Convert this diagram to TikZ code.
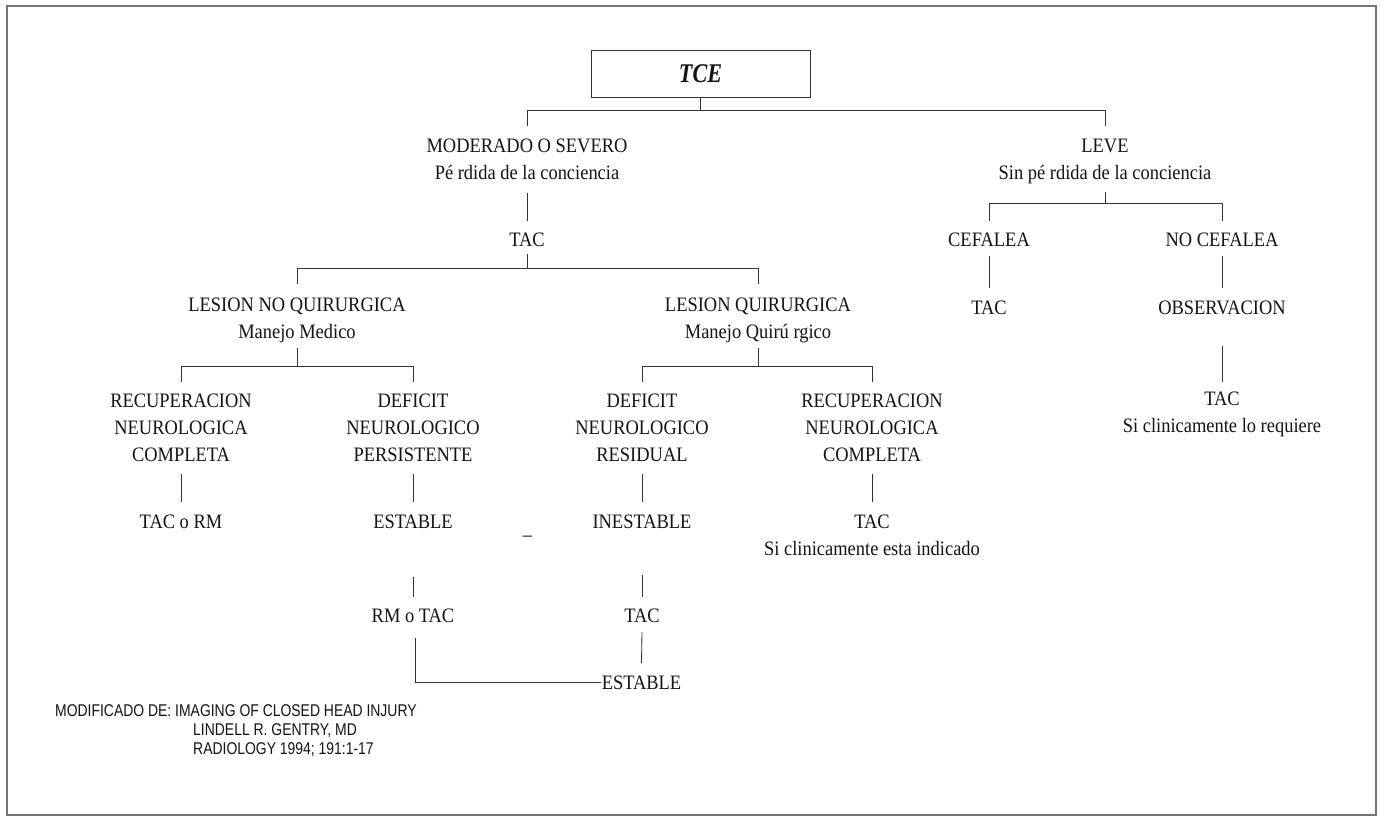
\documentclass[tikz,border=0pt]{standalone}
\usepackage{fontspec}
\setmainfont{Liberation Serif}[FakeStretch=0.9]
\newfontfamily\tcefont{Liberation Serif}[FakeStretch=0.82]
\newfontfamily\credfont{Liberation Sans}[FakeStretch=0.82]
\definecolor{txt}{HTML}{141414}
\definecolor{ln}{HTML}{333333}
\definecolor{framec}{HTML}{757575}
\newcommand\st{\rule[-6.7pt]{0pt}{27pt}}
\begin{document}
\begin{tikzpicture}[x=1pt,y=1pt,
  lbl/.style={inner sep=0pt, align=center, font=\fontsize{20.5}{27}\selectfont, text=txt},
  conn/.style={draw=ln, line width=0.85pt},
  cred/.style={inner sep=0pt, anchor=base west, font=\credfont\fontsize{17}{19}\selectfont, text=txt},
  tcebox/.style={draw=ln, line width=0.85pt, minimum width=219pt, minimum height=47pt, inner sep=0pt,
    font=\tcefont\bfseries\itshape\fontsize{27}{30}\selectfont, text=txt}]
\useasboundingbox (0,0) rectangle (1384,-817);
\fill[white] (0,0) rectangle (1384,-817);
\draw[framec, line width=1.8pt] (7,-6) rectangle (1376,-815);

% nodes
\node[tcebox] (tce) at (700.5,-73.5) {TCE};
\node[lbl] (mod) at (527,-159) {\st MODERADO O SEVERO\\\st Pé rdida de la conciencia};
\node[lbl] (lev) at (1105,-159) {\st LEVE\\\st Sin pé rdida de la conciencia};
\node[lbl] (tacL) at (527,-240) {\st TAC};
\node[lbl] (lnq) at (297,-318.5) {\st LESION NO QUIRURGICA\\\st Manejo Medico};
\node[lbl] (lq) at (758,-318.5) {\st LESION QUIRURGICA\\\st Manejo Quirú rgico};
\node[lbl] (rec1) at (181,-427.5) {\st RECUPERACION\\\st NEUROLOGICA\\\st COMPLETA};
\node[lbl] (dp) at (413,-427.5) {\st DEFICIT\\\st NEUROLOGICO\\\st PERSISTENTE};
\node[lbl] (dr) at (642,-427.5) {\st DEFICIT\\\st NEUROLOGICO\\\st RESIDUAL};
\node[lbl] (rec2) at (872,-427.5) {\st RECUPERACION\\\st NEUROLOGICA\\\st COMPLETA};
\node[lbl] (tacrm) at (181,-522) {\st TAC o RM};
\node[lbl] (est1) at (413,-522) {\st ESTABLE};
\node[lbl] (inest) at (642,-522) {\st INESTABLE};
\node[lbl] (tacsi) at (872,-535.5) {\st TAC\\\st Si clinicamente esta indicado};
\node[lbl, anchor=base] (dash) at (527.5,-534) {\_};
\node[lbl] (rmtac) at (413,-615.5) {\st RM o TAC};
\node[lbl] (tac2) at (642,-615.5) {\st TAC};
\node[lbl] (est2) at (641.5,-682.5) {\st ESTABLE};
\node[lbl] (cef) at (989,-240) {\st CEFALEA};
\node[lbl] (ncef) at (1222,-240) {\st NO CEFALEA};
\node[lbl] (tacR) at (989,-308) {\st TAC};
\node[lbl] (obs) at (1222,-308) {\st OBSERVACION};
\node[lbl] (tacreq) at (1222,-412) {\st TAC\\\st Si clinicamente lo requiere};

\node[cred] (cred1) at (55,-716) {MODIFICADO DE: IMAGING OF CLOSED HEAD INJURY};
\node[cred] (cred2) at (193,-735.5) {LINDELL R. GENTRY, MD};
\node[cred] (cred3) at (193,-754.5) {RADIOLOGY 1994; 191:1-17};

% connectors
\draw[conn] (tce.south) -- ++(0,-13.5);
\draw[conn] ([yshift=6pt]mod.north) -- ++(0,15.5) -| ([yshift=6pt]lev.north);
\draw[conn] ([yshift=-7pt]mod.south) -- ([yshift=5.5pt]tacL.north);
\draw[conn] (tacL.south) -- ++(0,-15);
\draw[conn] ([yshift=7.5pt]lnq.north) -- ++(0,15.5) -| ([yshift=7.5pt]lq.north);
\draw[conn] ([yshift=-2.5pt]lnq.south) -- ++(0,-19);
\draw[conn] ([yshift=5pt]rec1.north) -- ++(0,15) -| ([yshift=5pt]dp.north);
\draw[conn] ([yshift=-2.5pt]lq.south) -- ++(0,-19);
\draw[conn] ([yshift=5pt]dr.north) -- ++(0,15) -| ([yshift=5pt]rec2.north);
\draw[conn] ([yshift=-6pt]rec1.south) -- ([yshift=6.5pt]tacrm.north);
\draw[conn] ([yshift=-6pt]dp.south) -- ([yshift=6.5pt]est1.north);
\draw[conn] ([yshift=-6pt]dr.south) -- ([yshift=6.5pt]inest.north);
\draw[conn] ([yshift=-6pt]rec2.south) -- ([yshift=6.5pt]tacsi.north);
\draw[conn] ([yshift=-41.5pt]est1.south) -- ([yshift=4.5pt]rmtac.north);
\draw[conn] ([yshift=-39.5pt]inest.south) -- ([yshift=5pt]tac2.north);
\draw[conn] ([yshift=-3pt]tac2.south) -- ([yshift=6pt]est2.north);
\draw[conn] ([xshift=2.5pt,yshift=-9pt]rmtac.south) |- ([xshift=-1pt]est2.west);
\draw[conn] ([yshift=-6pt]lev.south) -- ++(0,-11.5);
\draw[conn] ([yshift=5.5pt]cef.north) -- ++(0,17.5) -| ([yshift=5.5pt]ncef.north);
\draw[conn] ([yshift=-2.5pt]cef.south) -- ([yshift=6.5pt]tacR.north);
\draw[conn] ([yshift=-2.5pt]ncef.south) -- ([yshift=6.5pt]obs.north);
\draw[conn] ([yshift=-24pt]obs.south) -- ([yshift=3pt]tacreq.north);
\end{tikzpicture}
\end{document}
